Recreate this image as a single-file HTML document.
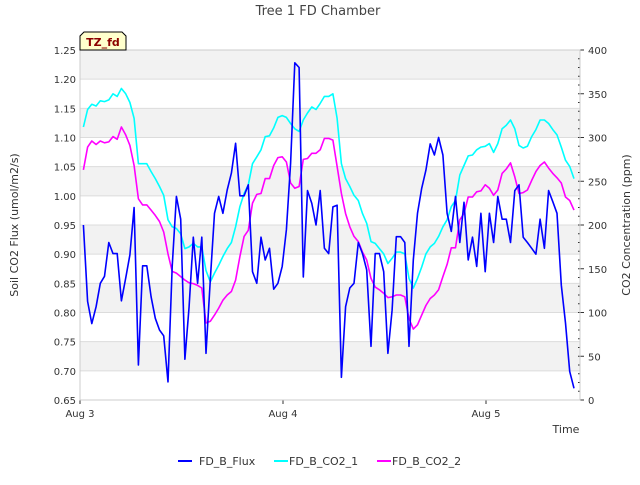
<!DOCTYPE html>
<html><head><meta charset="utf-8"><style>
body{margin:0;background:#fff;font-family:"Liberation Sans","DejaVu Sans",sans-serif}
</style></head><body>
<svg width="640" height="480" xmlns="http://www.w3.org/2000/svg" font-family="DejaVu Sans, Liberation Sans, sans-serif">
<g id="bg"></g><g id="axes"></g><g id="series"></g>
<text x="318" y="15" text-anchor="middle" font-size="13" fill="#444">Tree 1 FD Chamber</text>
<g><path d="M80,50 L80,36 L84,32 L122,32 L126,36 L126,50 Z" fill="#ffffcc" stroke="#000" stroke-width="1"/><text x="103" y="46" text-anchor="middle" font-size="11" font-weight="bold" fill="#8b0000">TZ_fd</text></g>
<text transform="translate(18,225) rotate(-90)" text-anchor="middle" font-size="11" fill="#333">Soil CO2 Flux (umol/m2/s)</text>
<text transform="translate(630,225) rotate(-90)" text-anchor="middle" font-size="11" fill="#333">CO2 Concentration (ppm)</text>
<text x="566" y="433" text-anchor="middle" font-size="11" fill="#333">Time</text>
<g font-size="11" fill="#333">
<g><line x1="178" y1="461" x2="192" y2="461" stroke="#0000ff" stroke-width="2"/><text x="199" y="465">FD_B_Flux</text></g>
<g><line x1="274" y1="461" x2="288" y2="461" stroke="#00ffff" stroke-width="2"/><text x="289" y="465">FD_B_CO2_1</text></g>
<g><line x1="377" y1="461" x2="391" y2="461" stroke="#ff00ff" stroke-width="2"/><text x="392" y="465">FD_B_CO2_2</text></g>
</g>
</svg>
<script>
const xTickLabels=["Aug 3","Aug 4","Aug 5"];
const xTickHours=[0,24,48];
const leftTicks=[0.65,0.70,0.75,0.80,0.85,0.90,0.95,1.00,1.05,1.10,1.15,1.20,1.25];
const rightTicks=[0,50,100,150,200,250,300,350,400];
const startHour=0.4, stepHour=0.5;
const flux=[0.950,0.819,0.781,0.810,0.850,0.862,0.920,0.901,0.901,0.820,0.859,0.899,0.980,0.710,0.880,0.880,0.827,0.790,0.770,0.760,0.681,0.879,0.999,0.960,0.720,0.810,0.929,0.850,0.929,0.730,0.856,0.970,0.999,0.970,1.010,1.039,1.090,1.000,1.000,1.019,0.870,0.850,0.929,0.890,0.910,0.840,0.850,0.879,0.942,1.056,1.228,1.220,0.861,1.009,0.987,0.950,1.009,0.910,0.901,0.981,
0.984,0.689,0.810,0.842,0.850,0.920,0.901,0.873,0.742,0.901,0.901,0.870,0.730,0.804,0.930,0.930,0.920,0.742,0.890,0.970,1.013,1.044,1.089,1.070,1.100,1.070,0.970,0.939,0.999,0.920,0.989,0.890,0.929,0.879,0.970,0.870,0.970,0.920,0.999,0.960,0.960,0.920,1.009,1.019,0.929,0.920,0.910,0.900,0.960,0.910,1.009,0.990,0.970,0.847,0.782,0.699,0.670];
const co2_1=[312,332,338,336,342,341,343,350,347,356,350,340,322,270,270,270,261,253,244,234,206,198,196,190,173,175,179,175,175,148,135,145,154,164,173,180,198,221,236,246,270,278,286,301,302,311,323,325,323,316,310,307,320,328,335,332,339,347,347,350,
322,270,253,244,234,228,213,202,181,179,173,167,156,162,169,169,167,139,128,139,152,167,175,179,187,198,206,221,228,257,268,279,280,286,289,290,293,283,293,310,314,320,310,291,288,290,301,309,320,320,316,309,303,289,274,267,253];
const co2_2=[263,289,296,292,296,294,295,301,298,312,303,291,268,230,223,223,217,211,204,192,167,147,145,141,137,134,133,131,128,88,90,97,105,114,120,124,137,164,187,194,225,235,236,253,253,268,277,278,272,248,242,244,275,276,282,282,286,299,299,297,
267,236,213,198,187,181,169,160,139,129,126,122,117,118,120,120,118,93,81,86,97,108,116,120,126,141,155,174,174,206,213,232,232,238,239,246,242,234,240,259,264,271,255,236,237,240,251,261,268,272,265,259,254,248,232,228,217];
const NS="http://www.w3.org/2000/svg";
const X0=80,X1=580,Y0=400,Y1=50;
const xs=h=>X0+h/24*203;
const yl=v=>Y0-(v-0.65)/0.6*(Y0-Y1);
const yr=v=>Y0-v/400*(Y0-Y1);
function mk(tag,attrs,parent){const e=document.createElementNS(NS,tag);for(const k in attrs)e.setAttribute(k,attrs[k]);parent.appendChild(e);return e;}
const bg=document.getElementById('bg'),ax=document.getElementById('axes'),sr=document.getElementById('series');
for(let i=0;i<leftTicks.length-1;i++){
  if(i%2===1){const r=mk('rect',{x:X0,y:yl(leftTicks[i+1]),width:X1-X0,height:yl(leftTicks[i])-yl(leftTicks[i+1]),fill:'#f2f2f2'},bg);
  
  }
}
leftTicks.forEach(v=>{
  const l=mk('line',{x1:X0,x2:X1,y1:yl(v),y2:yl(v),stroke:'#dcdcdc','stroke-width':1},bg);
  
  
  const t=mk('text',{x:X0-4,y:yl(v)+4,'text-anchor':'end','font-size':10,fill:'#333'},ax);
  
  
  t.textContent=v.toFixed(2);
});
rightTicks.forEach(v=>{
  const t=mk('text',{x:X1+8,y:yr(v)+4,'font-size':10,fill:'#333'},ax);
  
  
  t.textContent=v;
  mk('line',{x1:X1,x2:X1+4,y1:yr(v),y2:yr(v),stroke:'#333'},ax);
});
for(let v=10;v<400;v+=10){mk('line',{x1:X1-2,x2:X1,y1:yr(v),y2:yr(v),stroke:'#333'},ax);}
xTickHours.forEach((h,i)=>{
  mk('line',{x1:xs(h),x2:xs(h),y1:Y0,y2:Y0+4,stroke:'#333'},ax);
  const t=mk('text',{x:xs(h),y:Y0+17,'text-anchor':'middle','font-size':10,fill:'#333'},ax);
  
  
  t.textContent=xTickLabels[i];
});
const fr=mk('rect',{x:X0,y:Y1,width:X1-X0,height:Y0-Y1,fill:'none',stroke:'#ccc'},ax);


function line(arr,ys,color,name){
  const pts=arr.map((v,i)=>xs(startHour+i*stepHour).toFixed(1)+','+ys(v).toFixed(1)).join(' ');
  const p=mk('polyline',{points:pts,fill:'none',stroke:color,'stroke-width':1.6,'stroke-linejoin':'round'},sr);
  
  
}
line(co2_1,yr,'#00ffff','series-co2-1');
line(co2_2,yr,'#ff00ff','series-co2-2');
line(flux,yl,'#0000ff','series-flux');
</script>
</body></html>
